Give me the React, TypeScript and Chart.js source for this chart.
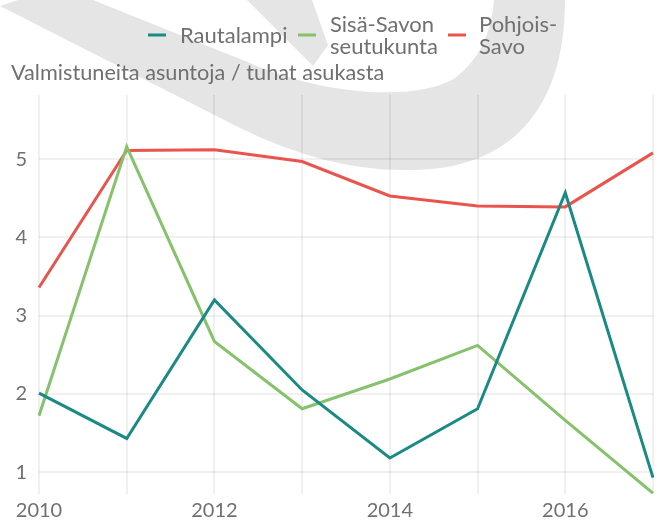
import React, { useEffect, useRef } from "react";
import { Chart, registerables } from "chart.js";

Chart.register(...registerables);

const years = ["2010", "2011", "2012", "2013", "2014", "2015", "2016", "2017"];
const rautalampi = [2.01, 1.43, 3.2, 2.05, 1.18, 1.81, 4.57, 0.93];
const sisaSavo = [1.72, 5.16, 2.67, 1.81, 2.19, 2.62, 1.66, 0.73];
const pohjoisSavo = [3.36, 5.11, 5.12, 4.97, 4.53, 4.4, 4.39, 5.08];
const seriesNames = ["Rautalampi", "Sisä-Savon seutukunta", "Pohjois-Savo"];
const legendLines = [["Rautalampi"], ["Sisä-Savon", "seutukunta"], ["Pohjois-", "Savo"]];
const colors = ["#1b8a85", "#86c26c", "#e9554e"];
const yTicks = [1, 2, 3, 4, 5];
const yTitle = "Valmistuneita asuntoja / tuhat asukasta";

const FONT = "Lato, 'DejaVu Sans', sans-serif";
const TEXT = "#707070";

const watermark = {
  id: "watermark",
  beforeDraw(chart: any) {
    const ctx = chart.ctx;
    ctx.save();
    ctx.fillStyle = "#e5e5e5";
    ctx.beginPath();
    ctx.moveTo(18, 0);
    ctx.lineTo(565, 0);
    ctx.bezierCurveTo(565, 110, 510, 170, 410, 170);
    ctx.quadraticCurveTo(330, 172, 240, 128);
    ctx.lineTo(0, 6);
    ctx.closePath();
    ctx.fill();
    ctx.fillStyle = "#ffffff";
    ctx.beginPath();
    ctx.moveTo(93, 0);
    ctx.lineTo(250, 63);
    ctx.bezierCurveTo(330, 98, 420, 100, 455, 78);
    ctx.quadraticCurveTo(490, 52, 494, 0);
    ctx.closePath();
    ctx.fill();
    ctx.fillStyle = "#e5e5e5";
    ctx.beginPath();
    ctx.moveTo(247, 0);
    ctx.lineTo(312, 0);
    ctx.lineTo(328, 45);
    ctx.lineTo(313, 66);
    ctx.closePath();
    ctx.fill();
    ctx.restore();
  },
};

const legendAndTitle = {
  id: "legendAndTitle",
  afterDraw(chart: any) {
    const ctx = chart.ctx;
    ctx.save();
    ctx.font = `21.7px ${FONT}`;
    ctx.fillStyle = TEXT;
    ctx.textAlign = "left";
    ctx.textBaseline = "alphabetic";
    ctx.fillText(yTitle, 11, 80);
    const markerX = [148, 298, 448];
    const textX = [180, 330, 479];
    ctx.font = `22px ${FONT}`;
    legendLines.forEach((lines, i) => {
      ctx.fillStyle = colors[i];
      ctx.fillRect(markerX[i], 33.5, 18, 3);
      ctx.fillStyle = TEXT;
      if (lines.length === 1) {
        ctx.fillText(lines[0], textX[i], 43);
      } else {
        ctx.fillText(lines[0], textX[i], 32);
        ctx.fillText(lines[1], textX[i], 54);
      }
    });
    ctx.restore();
  },
};

export default function App() {
  const ref = useRef<HTMLCanvasElement | null>(null);
  useEffect(() => {
    if (!ref.current) return;
    const chart = new Chart(ref.current, {
      type: "line",
      data: {
        labels: years,
        datasets: [rautalampi, sisaSavo, pohjoisSavo].map((d, i) => ({
          label: seriesNames[i],
          data: d,
          borderColor: colors[i],
          backgroundColor: colors[i],
          borderWidth: 3,
          pointRadius: 0,
          tension: 0,
          fill: false,
        })),
      },
      options: {
        animation: false,
        responsive: false,
        layout: { padding: { top: 95, right: 13, left: 0, bottom: 0 } },
        plugins: { legend: { display: false }, title: { display: false }, tooltip: { enabled: false } },
        scales: {
          x: {
            type: "category",
            offset: false,
            grid: { color: "rgba(0,0,0,0.06)", lineWidth: 2, drawTicks: false },
            border: { display: false },
            ticks: {
              autoSkip: false,
              maxRotation: 0,
              padding: 5,
              color: TEXT,
              font: { family: FONT, size: 20 },
              callback: (_v: any, i: number) => (i % 2 === 0 ? years[i] : ""),
            },
            afterFit: (s: any) => {
              s.height = 26;
            },
          },
          y: {
            type: "linear",
            min: 0.72,
            max: 5.82,
            grid: { color: "rgba(0,0,0,0.06)", lineWidth: 2, drawTicks: false },
            border: { display: false },
            ticks: { padding: 12, color: TEXT, font: { family: FONT, size: 20 } },
            afterBuildTicks: (s: any) => {
              s.ticks = yTicks.map((v) => ({ value: v }));
            },
            afterFit: (s: any) => {
              s.width = 39;
            },
          },
        },
      },
      plugins: [watermark, legendAndTitle],
    });
    return () => chart.destroy();
  }, []);
  return (
    <div style={{ position: "absolute", left: 0, top: 0, width: 666, height: 520 }}>
      <canvas ref={ref} width={666} height={520} style={{ width: 666, height: 520 }} />
    </div>
  );
}
